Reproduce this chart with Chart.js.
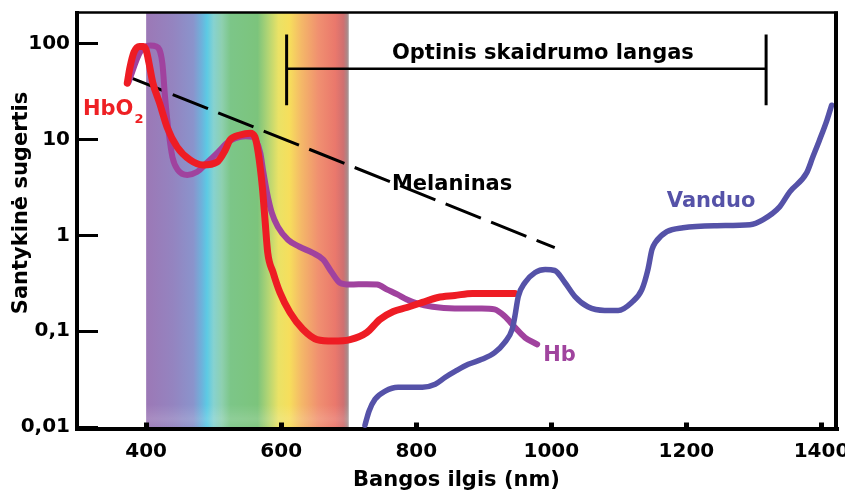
<!DOCTYPE html>
<html>
  <head>
    <meta charset="utf-8" />
    <title>Santykinė sugertis</title>
    <style>
      body {
        margin: 0;
        padding: 0;
        background-color: #ffffff;
      }

      #wrap {
        position: relative;
        width: 845px;
        height: 494px;
      }
    </style>
    <script src="https://cdn.jsdelivr.net/npm/chart.js"></script>
  </head>
  <body>
    <div id="wrap"><canvas id="absChart"></canvas></div>
    <script>
      // HbO2 absorption
      const hbo2Nm = [372, 376, 382, 390, 396, 400, 404, 410, 420, 431, 446, 465, 484, 505, 517, 524, 539, 554, 561, 566,
        572, 576, 580, 588, 598, 613, 632, 653, 677, 702, 727, 746, 766, 786, 809, 832, 857, 883, 906, 946];
      const hbo2Abs = [38.5, 56, 81, 93, 93, 85, 63.5, 38.5, 23.8, 13.4, 8.3, 6.1, 5.4, 5.8, 7.7, 9.8, 11.1, 11.6, 10.6, 7.2,
        3.2, 1.45, 0.66, 0.41, 0.254, 0.157, 0.105, 0.082, 0.079, 0.082, 0.0975, 0.133, 0.161, 0.177, 0.2, 0.225, 0.236, 0.248, 0.248, 0.248];

      // Hb absorption
      const hbNm = [374, 391, 406, 415, 424, 428, 433, 439, 447, 461, 475, 490, 505, 520, 532, 547, 558, 569, 573, 579,
        586, 595, 610, 627, 646, 662, 675, 687, 702, 727, 742, 757, 772, 786, 801, 824, 857, 897, 916, 931, 946, 961, 979];
      const hbAbs = [39.4, 81, 95, 93, 62, 27.5, 12.5, 6.5, 4.8, 4.26, 4.57, 5.7, 7.2, 9.2, 10.3, 10.8, 10.6, 7.2, 4.8, 2.77,
        1.72, 1.23, 0.9, 0.76, 0.66, 0.56, 0.41, 0.32, 0.307, 0.31, 0.307, 0.272, 0.242, 0.214, 0.195, 0.18, 0.173, 0.173, 0.169, 0.143, 0.11, 0.086, 0.073];

      // water absorption
      const waterNm = [724, 730, 739, 754, 773, 809, 828, 843, 858, 877, 897, 916, 931, 942, 946, 951, 961, 976, 991, 1005,
        1020, 1035, 1054, 1079, 1099, 1119, 1134, 1143, 1149, 1154, 1171, 1195, 1245, 1294, 1313, 1338, 1353, 1378, 1387, 1397, 1408, 1415];
      const waterAbs = [0.0105, 0.0147, 0.0196, 0.0238, 0.0261, 0.0261, 0.0281, 0.0332, 0.0384, 0.0453, 0.051, 0.06, 0.0767, 0.105, 0.143, 0.23, 0.322, 0.41, 0.44, 0.43,
        0.322, 0.23, 0.18, 0.165, 0.165, 0.2, 0.272, 0.44, 0.71, 0.84, 1.09, 1.2, 1.26, 1.29, 1.45, 1.98, 2.84, 4.47, 6.5, 9.8, 15.8, 22.7];

      // melanin (straight on log axis)
      const melaninNm = [372, 1005];
      const melaninAbs = [45.4, 0.743];

      // optical window bracket
      const windowNm = [608, 1318];
      const windowLevel = 54.3;
      const windowEnds = [124, 22.7];

      // visible range
      const spectrumNm = [400, 700];

      const xTicks = [400, 600, 800, 1000, 1200, 1400];
      const yTicks = [0.01, 0.1, 1, 10, 100];
      const yTickLabels = ["0,01", "0,1", "1", "10", "100"];

      const fontFamily = "'DejaVu Sans', sans-serif";
      Chart.defaults.font.family = fontFamily;
      Chart.defaults.color = "#000000";

      const spectrumStops = [
        [400, "#9c78b6"], [440, "#9484c0"], [470, "#8a94cc"], [483, "#6cb4dc"], [490, "#5ccae4"],
        [500, "#86d2d0"], [512, "#8ed0b0"], [525, "#7cc688"], [565, "#7cc47c"], [580, "#b0d474"],
        [596, "#eae266"], [612, "#f6de5c"], [630, "#f4b868"], [655, "#f09070"], [680, "#ea786c"],
        [692, "#d07070"], [697, "#b08484"], [700, "#a89c9c"],
      ];

      const textLabels = [
        { text: "Optinis skaidrumo langas", nm: 764, value: 68.2, color: "#000000" },
        { text: "Melaninas", nm: 764, value: 2.98, color: "#000000" },
        { text: "Vanduo", nm: 1171, value: 1.98, color: "#5552a8" },
        { text: "Hb", nm: 988, value: 0.0487, color: "#a0449e" },
        { text: "HbO", sub: "2", nm: 306.5, value: 17.9, color: "#ee2024" },
      ];

      const toPoints = (xs, ys) => xs.map((x, i) => ({ x: x, y: ys[i] }));

      const curve = (label, xs, ys, color, width) => ({
        label: label,
        data: toPoints(xs, ys),
        borderColor: color,
        borderWidth: width,
        pointRadius: 0,
        fill: false,
        cubicInterpolationMode: "monotone",
        borderCapStyle: "round",
        borderJoinStyle: "round",
      });

      const straight = (label, pts, width, dash) => ({
        label: label,
        data: pts,
        borderColor: "#000000",
        borderWidth: width,
        borderDash: dash || [],
        pointRadius: 0,
        fill: false,
        tension: 0,
        borderCapStyle: "butt",
      });

      // coloured band of the visible spectrum, under the axes
      const spectrumBand = {
        id: "spectrumBand",
        beforeDraw(chart) {
          const { ctx, chartArea, scales } = chart;
          const x0 = scales.x.getPixelForValue(spectrumNm[0]);
          const x1 = scales.x.getPixelForValue(spectrumNm[1]);
          const span = spectrumNm[1] - spectrumNm[0];
          const grad = ctx.createLinearGradient(x0, 0, x1, 0);
          spectrumStops.forEach(([nm, col]) => grad.addColorStop((nm - spectrumNm[0]) / span, col));
          ctx.save();
          ctx.fillStyle = grad;
          ctx.fillRect(x0, chartArea.top, x1 - x0, chartArea.bottom - chartArea.top);
          const haze = ctx.createLinearGradient(0, chartArea.bottom - 24, 0, chartArea.bottom);
          haze.addColorStop(0, "rgba(255,255,255,0)");
          haze.addColorStop(0.6, "rgba(255,255,255,0.14)");
          haze.addColorStop(1, "rgba(255,255,255,0.03)");
          ctx.fillStyle = haze;
          ctx.fillRect(x0, chartArea.bottom - 24, x1 - x0, 24);
          ctx.restore();
        },
      };

      // top/right frame, curve names and the y title
      const frameAndLabels = {
        id: "frameAndLabels",
        afterDatasetsDraw(chart) {
          const { ctx, chartArea, scales } = chart;
          ctx.save();
          ctx.strokeStyle = "#000000";
          ctx.lineWidth = 2.5;
          ctx.beginPath();
          ctx.moveTo(chartArea.left, chartArea.top);
          ctx.lineTo(chartArea.right + 2, chartArea.top);
          ctx.stroke();
          ctx.lineWidth = 4;
          ctx.beginPath();
          ctx.moveTo(chartArea.right, chartArea.top - 1);
          ctx.lineTo(chartArea.right, chartArea.bottom);
          ctx.stroke();

          ctx.textBaseline = "alphabetic";
          ctx.textAlign = "left";
          textLabels.forEach((lab) => {
            const x = scales.x.getPixelForValue(lab.nm);
            const y = scales.y.getPixelForValue(lab.value);
            ctx.fillStyle = lab.color;
            ctx.font = "bold 21px " + fontFamily;
            ctx.fillText(lab.text, x, y);
            if (lab.sub) {
              const w = ctx.measureText(lab.text).width;
              ctx.font = "bold 13px " + fontFamily;
              ctx.fillText(lab.sub, x + w + 1, y + 8);
            }
          });

          ctx.fillStyle = "#000000";
          ctx.font = "bold 21px " + fontFamily;
          ctx.textAlign = "center";
          ctx.textBaseline = "middle";
          ctx.translate(22, 203);
          ctx.rotate(-Math.PI / 2);
          ctx.fillText("Santykinė sugertis", 0, 0);
          ctx.restore();
        },
      };

      const ctx = document.getElementById("absChart").getContext("2d");
      const absChart = new Chart(ctx, {
        type: "line",
        data: {
          datasets: [
            curve("Vanduo", waterNm, waterAbs, "#5552a8", 5.5),
            curve("HbO2", hbo2Nm, hbo2Abs, "#ee1c24", 7),
            curve("Hb", hbNm, hbAbs, "#a0429e", 6),
            straight("Melaninas", toPoints(melaninNm, melaninAbs), 3, [38, 11]),
            straight("window", [{ x: windowNm[0], y: windowLevel }, { x: windowNm[1], y: windowLevel }], 2.5),
            straight("windowStart", [{ x: windowNm[0], y: windowEnds[0] }, { x: windowNm[0], y: windowEnds[1] }], 3),
            straight("windowEnd", [{ x: windowNm[1], y: windowEnds[0] }, { x: windowNm[1], y: windowEnds[1] }], 3),
          ],
        },
        options: {
          responsive: true,
          maintainAspectRatio: false,
          animation: false,
          layout: { padding: { top: 12.5, right: 9, bottom: 0, left: 0 } },
          plugins: {
            legend: { display: false },
            tooltip: { enabled: false },
          },
          scales: {
            x: {
              type: "linear",
              position: "bottom",
              min: 297.6,
              max: 1421.5,
              afterBuildTicks: (scale) => {
                scale.ticks = xTicks.map((v) => ({ value: v }));
              },
              afterFit: (scale) => {
                scale.height = 65.5;
                scale.paddingLeft = 0;
                scale.paddingRight = 0;
              },
              grid: { drawOnChartArea: false, drawTicks: true, tickLength: -6, lineWidth: 5, color: "#000000" },
              border: { display: true, color: "#000000", width: 4 },
              ticks: {
                padding: 17,
                color: "#000000",
                maxRotation: 0,
                font: { size: 20, weight: "bold" },
                callback: (value) => String(value),
              },
              title: {
                display: true,
                text: "Bangos ilgis (nm)",
                color: "#000000",
                font: { size: 21, weight: "bold" },
                padding: { top: 0, bottom: 1 },
              },
            },
            y: {
              type: "logarithmic",
              min: 0.0097,
              max: 210,
              afterBuildTicks: (scale) => {
                scale.ticks = yTicks.map((v) => ({ value: v }));
              },
              afterFit: (scale) => {
                scale.width = 77;
                scale.paddingTop = 0;
                scale.paddingBottom = 0;
              },
              grid: { drawOnChartArea: false, drawTicks: true, tickLength: -21, lineWidth: 3, color: "#000000" },
              border: { display: true, color: "#000000", width: 4 },
              ticks: {
                padding: 28,
                color: "#000000",
                font: { size: 20, weight: "bold" },
                callback: (value, index) => yTickLabels[index],
              },
            },
          },
        },
        plugins: [spectrumBand, frameAndLabels],
      });
    </script>
  </body>
</html>
